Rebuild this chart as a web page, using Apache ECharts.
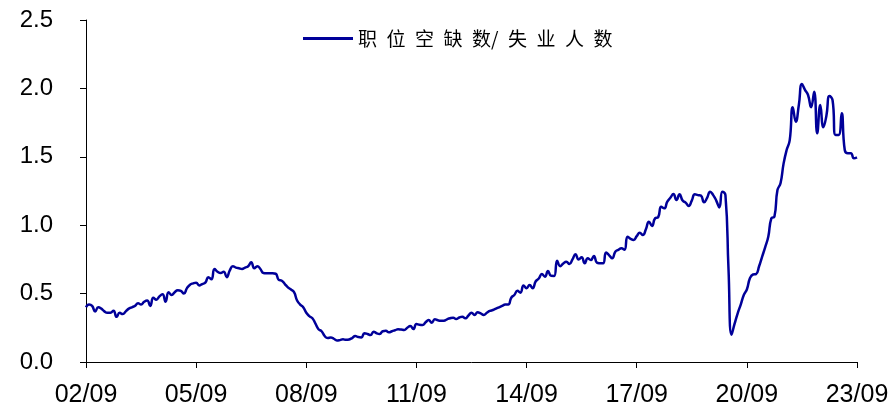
<!DOCTYPE html>
<html>
<head>
<meta charset="utf-8">
<script src="https://cdn.jsdelivr.net/npm/echarts@6/dist/echarts.min.js"></script>
<style>
    html, body { margin: 0; padding: 0; background: #fff; }
    #chart { width: 893px; height: 405px; }
</style>
</head>
<body>
<div id="chart"></div>
<script>
// monthly, 2002/09 .. 2023/09
const startYear = 2002;
const startMonth = 9;
const seriesName = '职位空缺数/失业人数';
const yTicks = [0, 0.5, 1.0, 1.5, 2.0, 2.5];

const ratio = [
    0.40, 0.42, 0.41, 0.37, 0.40, 0.39, 0.37, 0.36, 0.36, 0.375, 0.33, 0.36,
    0.35, 0.37, 0.39, 0.40, 0.41, 0.43, 0.42, 0.44, 0.45, 0.41, 0.47, 0.455,
    0.48, 0.495, 0.44, 0.51, 0.49, 0.51, 0.525, 0.52, 0.50, 0.54, 0.565, 0.575,
    0.58, 0.56, 0.57, 0.58, 0.62, 0.605, 0.68, 0.66, 0.65, 0.66, 0.62, 0.67,
    0.70, 0.69, 0.685, 0.68, 0.69, 0.70, 0.73, 0.685, 0.70, 0.68, 0.65, 0.648,
    0.648, 0.648, 0.645, 0.60, 0.594, 0.57, 0.546, 0.53, 0.51, 0.45, 0.42, 0.40,
    0.36, 0.335, 0.32, 0.28, 0.24, 0.225, 0.19, 0.175, 0.18, 0.17, 0.157, 0.16,
    0.166, 0.162, 0.165, 0.175, 0.19, 0.182, 0.18, 0.21, 0.205, 0.197, 0.222, 0.21,
    0.205, 0.225, 0.228, 0.217, 0.225, 0.232, 0.239, 0.237, 0.234, 0.25, 0.263, 0.241,
    0.278, 0.272, 0.27, 0.29, 0.307, 0.287, 0.312, 0.305, 0.302, 0.302, 0.312, 0.32,
    0.324, 0.314, 0.325, 0.331, 0.319, 0.34, 0.36, 0.344, 0.363, 0.355, 0.344, 0.36,
    0.373, 0.38, 0.39, 0.40, 0.41, 0.42, 0.42, 0.47, 0.49, 0.52, 0.507, 0.56,
    0.539, 0.563, 0.539, 0.59, 0.61, 0.643, 0.624, 0.665, 0.63, 0.629, 0.74, 0.70,
    0.72, 0.733, 0.716, 0.75, 0.787, 0.75, 0.765, 0.721, 0.758, 0.746, 0.775, 0.726,
    0.722, 0.721, 0.80, 0.78, 0.758, 0.806, 0.82, 0.831, 0.82, 0.916, 0.90, 0.892,
    0.92, 0.945, 0.928, 0.97, 1.026, 0.994, 1.05, 1.058, 1.135, 1.123, 1.172, 1.20,
    1.228, 1.184, 1.226, 1.18, 1.165, 1.14, 1.18, 1.226, 1.22, 1.216, 1.167, 1.20,
    1.245, 1.22, 1.18, 1.13, 1.245, 1.22, 0.68, 0.20, 0.28, 0.356, 0.42, 0.49,
    0.53, 0.612, 0.64, 0.643, 0.70, 0.77, 0.84, 0.916, 1.05, 1.062, 1.257, 1.306,
    1.45, 1.55, 1.62, 1.862, 1.757, 1.88, 2.032, 1.99, 1.952, 1.862, 1.976, 1.672,
    1.879, 1.716, 1.80, 1.944, 1.915, 1.66, 1.66, 1.818, 1.55, 1.526, 1.526, 1.489,
    1.496
];

let months = [];
for (let i = 0; i < ratio.length; i++) {
    let m = startMonth - 1 + i;
    let yy = (startYear + Math.floor(m / 12)) % 100;
    let mm = m % 12 + 1;
    months.push(String(yy).padStart(2, '0') + '/' + String(mm).padStart(2, '0'));
}

// legend text in the picture is widely spaced
let spacedName = ['职', '位', '空', '缺', '数/', '失', '业', '人', '数'].join('\u2002');

let chart = echarts.init(document.getElementById('chart'), null, { renderer: 'canvas' });

chart.setOption({
    animation: false,
    backgroundColor: '#fff',
    grid: {
        left: 86,
        right: 36,
        top: 20,
        bottom: 43,
        containLabel: false,
        outerBoundsMode: 'none'
    },
    legend: {
        data: [seriesName],
        left: 298,
        top: 24,
        itemWidth: 50,
        itemHeight: 3,
        itemGap: 5,
        icon: 'rect',
        formatter: function () { return spacedName; },
        textStyle: {
            fontFamily: '"Noto Sans CJK SC", sans-serif',
            fontSize: 19,
            color: '#000'
        }
    },
    xAxis: {
        type: 'category',
        data: months,
        boundaryGap: false,
        axisLine: { lineStyle: { color: '#000', width: 1 } },
        axisTick: {
            interval: 35,
            length: 6,
            lineStyle: { color: '#000' }
        },
        axisLabel: {
            interval: 35,
            margin: 21,
            color: '#000',
            fontSize: 25,
            fontFamily: '"Liberation Sans", Arial, sans-serif'
        },
        splitLine: { show: false }
    },
    yAxis: {
        type: 'value',
        min: yTicks[0],
        max: yTicks[yTicks.length - 1],
        interval: 0.5,
        axisLine: { show: true, lineStyle: { color: '#000', width: 1 } },
        axisTick: { show: true, length: 6, lineStyle: { color: '#000' } },
        axisLabel: {
            margin: 33,
            color: '#000',
            fontSize: 24,
            fontFamily: '"Liberation Sans", Arial, sans-serif',
            formatter: function (v) { return v.toFixed(1); }
        },
        splitLine: { show: false }
    },
    series: [
        {
            name: seriesName,
            type: 'line',
            data: ratio,
            smooth: 0.5,
            showSymbol: false,
            lineStyle: { color: '#000099', width: 2.5 },
            itemStyle: { color: '#000099' }
        }
    ]
});
</script>
</body>
</html>
